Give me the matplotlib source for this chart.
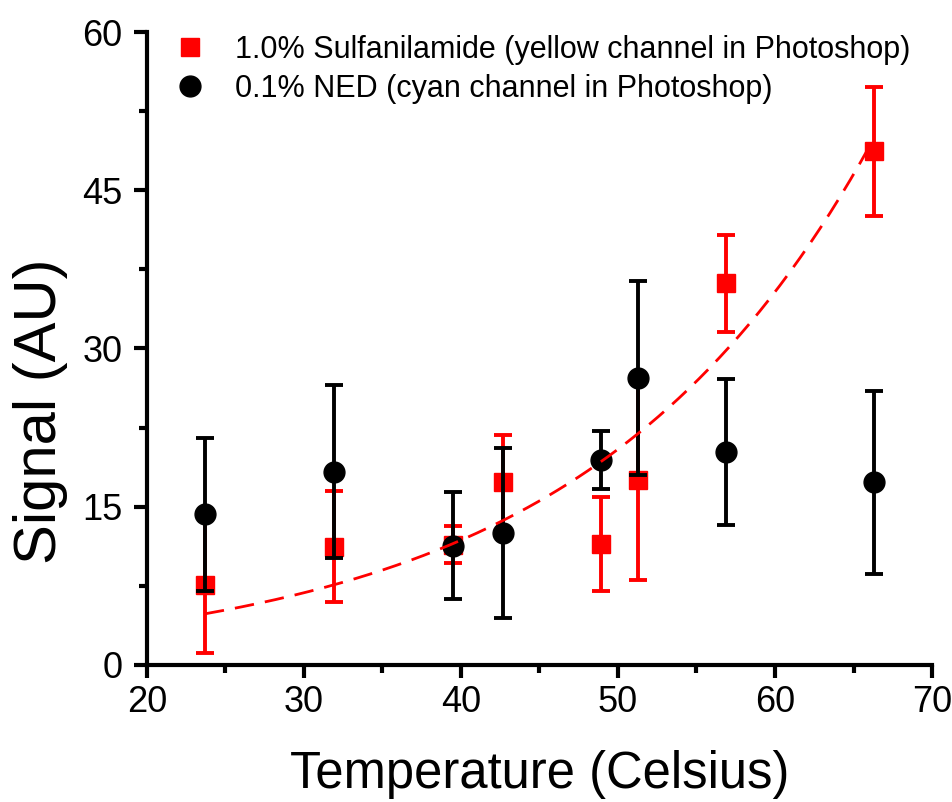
import numpy as np
import matplotlib
matplotlib.use("Agg")
import matplotlib.pyplot as plt
from matplotlib.lines import Line2D
from matplotlib.ticker import MultipleLocator

plt.rcParams["font.family"] = ["Liberation Sans", "DejaVu Sans"]

# === DATOS ===
temp = [23.7, 31.9, 39.5, 42.7, 48.9, 51.3, 56.9, 66.3]

sulf_signal = [7.6, 11.2, 11.4, 17.3, 11.5, 17.5, 36.2, 48.7]
sulf_err = [6.5, 5.25, 1.75, 4.5, 4.45, 9.5, 4.6, 6.1]

ned_signal = [14.3, 18.3, 11.3, 12.5, 19.4, 27.2, 20.2, 17.3]
ned_err = [7.25, 8.2, 5.1, 8.1, 2.75, 9.2, 6.9, 8.65]

# ajuste exponencial y = A * exp(B * T)
fit_A = 1.32
fit_B = 0.0548

labels = ["1.0% Sulfanilamide (yellow channel in Photoshop)",
          "0.1% NED (cyan channel in Photoshop)"]

# === GRÁFICA ===
fig = plt.figure(figsize=(9.53, 8.02), dpi=100)
ax = fig.add_axes([0.154, 0.171, 0.824, 0.789])

ax.errorbar(temp, sulf_signal, yerr=sulf_err, fmt='s', color='red', ms=13,
            elinewidth=2.8, capsize=6.5, capthick=2.8, zorder=3)
ax.errorbar(temp, ned_signal, yerr=ned_err, fmt='o', color='black', ms=15,
            elinewidth=2.8, capsize=6.5, capthick=2.8, zorder=4)

t_fit = np.linspace(min(temp), max(temp), 200)
ax.plot(t_fit, fit_A * np.exp(fit_B * t_fit), color='red', linestyle=(0, (7, 4)),
        linewidth=2.0, zorder=5)

ax.set_xlim(20, 70)
ax.set_ylim(0, 60)
ax.xaxis.set_major_locator(MultipleLocator(10))
ax.xaxis.set_minor_locator(MultipleLocator(5))
ax.yaxis.set_major_locator(MultipleLocator(15))
ax.yaxis.set_minor_locator(MultipleLocator(7.5))

for s in ['top', 'right']:
    ax.spines[s].set_visible(False)
for s in ['left', 'bottom']:
    ax.spines[s].set_linewidth(3)

ax.tick_params(which='major', direction='out', length=9.5, width=3, labelsize=26)
ax.tick_params(which='minor', direction='out', length=5.5, width=3)
ax.tick_params(axis='y', which='major', pad=8)
ax.tick_params(axis='x', which='major', pad=5)

ax.set_xlabel("Temperature (Celsius)", fontsize=36.5)
ax.set_ylabel("Signal (AU)", fontsize=43)
ax.xaxis.set_label_coords(0.5, -0.135)
ax.yaxis.set_label_coords(-0.10, 0.40)

handles = [Line2D([], [], marker='s', color='red', linestyle='none', ms=13.5),
           Line2D([], [], marker='o', color='black', linestyle='none', ms=15)]
ax.legend(handles, labels, loc='upper left', frameon=False, fontsize=22,
          bbox_to_anchor=(0.001, 1.039), handletextpad=0.95, labelspacing=0.3,
          handlelength=1.0)

fig.savefig("out.png", dpi=100)
